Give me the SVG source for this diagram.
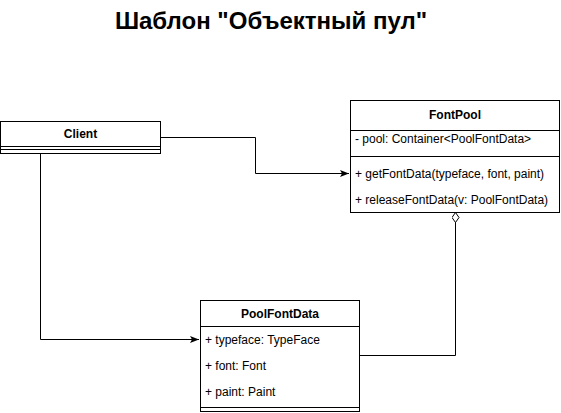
<svg xmlns="http://www.w3.org/2000/svg" width="561" height="413" viewBox="0 0 561 413">
<defs>
<style>
text{font-family:"Liberation Sans",Arial,Helvetica,sans-serif;font-size:12px;fill:#000}
.h{font-weight:bold;text-anchor:middle}
.box{fill:#fff;stroke:#000;stroke-width:1}
.ln{stroke:#000;stroke-width:1;fill:none}
.title{font-size:24px;font-weight:bold;text-anchor:middle}
</style>
<marker id="arr" markerWidth="10" markerHeight="8" refX="9" refY="4" orient="auto" markerUnits="userSpaceOnUse">
<path d="M0,0.5 L9,4 L0,7.5 L2,4 Z" fill="#000"/>
</marker>
<marker id="dia" markerWidth="12" markerHeight="8" refX="0.5" refY="4" orient="auto" markerUnits="userSpaceOnUse">
<path d="M0.5,4 L5.5,0.5 L10.5,4 L5.5,7.5 Z" fill="#fff" stroke="#000" stroke-width="1"/>
</marker>
</defs>
<rect width="561" height="413" fill="#fff"/>
<text class="title" x="271" y="29">Шаблон "Объектный пул"</text>
<g id="connectors">
<path class="ln" d="M160.5,137.5 H255.5 V173.5 H349" marker-end="url(#arr)"/>
<path class="ln" d="M40.5,153.5 V339.5 H199" marker-end="url(#arr)"/>
<path class="ln" d="M455.5,212.5 V355.5 H360" marker-start="url(#dia)"/>
</g>
<g id="client">
<rect class="box" x="0.5" y="121.5" width="160" height="32"/>
<line class="ln" x1="0.5" y1="146.5" x2="160.5" y2="146.5"/>
<line class="ln" x1="0.5" y1="149.5" x2="160.5" y2="149.5"/>
<text class="h" x="80.5" y="138">Client</text>
</g>
<g id="fontpool">
<rect class="box" x="350.5" y="100.5" width="209" height="112"/>
<line class="ln" x1="350.5" y1="130.5" x2="559.5" y2="130.5"/>
<line class="ln" x1="350.5" y1="156.5" x2="559.5" y2="156.5"/>
<text class="h" x="455" y="119">FontPool</text>
<text x="355" y="143">- pool: Container&lt;PoolFontData&gt;</text>
<text x="355" y="178">+ getFontData(typeface, font, paint)</text>
<text x="355" y="204">+ releaseFontData(v: PoolFontData)</text>
</g>
<g id="poolfontdata">
<rect class="box" x="200.5" y="300.5" width="159" height="111"/>
<line class="ln" x1="200.5" y1="326.5" x2="359.5" y2="326.5"/>
<line class="ln" x1="200.5" y1="407.5" x2="359.5" y2="407.5"/>
<text class="h" x="280" y="318">PoolFontData</text>
<text x="205" y="344">+ typeface: TypeFace</text>
<text x="205" y="370">+ font: Font</text>
<text x="205" y="396">+ paint: Paint</text>
</g>
</svg>
